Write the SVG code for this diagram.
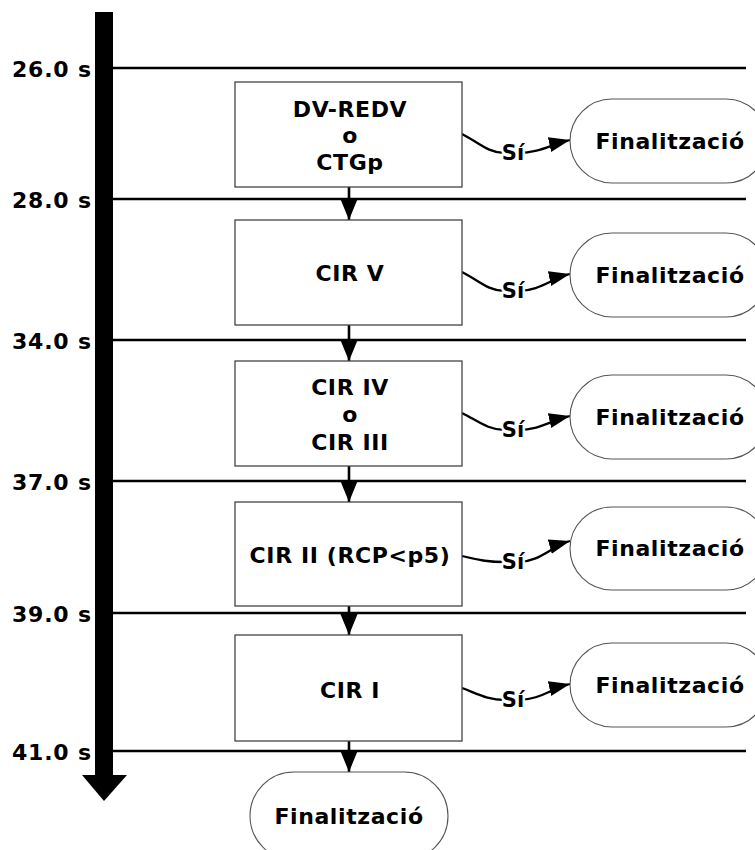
<svg xmlns="http://www.w3.org/2000/svg" width="755" height="850" viewBox="0 0 755 850">
<defs>
<style>
text{font-family:"DejaVu Sans","Verdana","Liberation Sans",sans-serif;font-weight:bold;fill:#000}
.t{font-size:22px;letter-spacing:0.8px}
.b{font-size:22px;letter-spacing:0.6px;text-anchor:middle}
.s{font-size:21px;text-anchor:middle;stroke:#fff;stroke-width:5px;paint-order:stroke;stroke-linejoin:round}
.box{fill:#fff;stroke:#444;stroke-width:1.3}
.term{fill:#fff;stroke:#555;stroke-width:1.1}
.tl{stroke:#000;stroke-width:2.6;fill:none}
.cs{stroke:#000;stroke-width:2.3;fill:none;marker-end:url(#ah)}
.cd{stroke:#000;stroke-width:2.6;fill:none;marker-end:url(#ad)}
</style>
<marker id="ah" markerUnits="userSpaceOnUse" markerWidth="24" markerHeight="18" refX="21" refY="7.5" orient="auto"><path d="M0,0 L21,7.5 L0,15 z" fill="#000"/></marker>
<marker id="ad" markerUnits="userSpaceOnUse" markerWidth="24" markerHeight="20" refX="22" refY="9" orient="auto"><path d="M0,0 L22,9 L0,18 z" fill="#000"/></marker>
</defs>
<rect width="755" height="850" fill="#fff"/>
<g id="timeline">
<rect x="95" y="12" width="18" height="764" fill="#000"/>
<polygon points="82,775 127,775 104,801" fill="#000"/>
<path class="tl" d="M113,68 H746 M113,199 H746 M113,340 H746 M113,481 H746 M113,613 H746 M113,751 H746"/>
<text class="t" x="12" y="77">26.0 s</text>
<text class="t" x="12" y="208">28.0 s</text>
<text class="t" x="12" y="349">34.0 s</text>
<text class="t" x="12" y="490">37.0 s</text>
<text class="t" x="12" y="622">39.0 s</text>
<text class="t" x="12" y="760">41.0 s</text>
</g>
<g id="connectors">
<path class="cd" d="M349,187 V220"/>
<path class="cd" d="M349,325 V361"/>
<path class="cd" d="M349,466 V502"/>
<path class="cd" d="M349,606 V635"/>
<path class="cd" d="M349,741 V772"/>
<path class="cs" d="M462,134 C478,142 488,153 505,153 L518,153 C540,153 552,144 570,140"/>
<path class="cs" d="M462,272 C478,280 488,291 505,291 L518,291 C540,291 552,278 570,274"/>
<path class="cs" d="M462,413 C478,421 488,430 505,430 L518,430 C540,430 552,420 570,416"/>
<path class="cs" d="M462,556 C478,560 488,562 505,562 L518,562 C540,562 552,546 570,541"/>
<path class="cs" d="M462,688 C478,694 488,700 505,700 L518,700 C540,700 552,688 570,684"/>
<text class="s" x="513" y="160">Sí</text>
<text class="s" x="513" y="298">Sí</text>
<text class="s" x="513" y="437">Sí</text>
<text class="s" x="513" y="569">Sí</text>
<text class="s" x="513" y="707">Sí</text>
</g>
<g id="n1"><rect class="box" x="235" y="82" width="227" height="105"/>
<text class="b" x="350" y="117">DV-REDV</text><text class="b" x="350" y="143">o</text><text class="b" x="350" y="170">CTGp</text></g>
<g id="n2"><rect class="box" x="235" y="220" width="227" height="105"/>
<text class="b" x="350" y="281">CIR V</text></g>
<g id="n3"><rect class="box" x="235" y="361" width="227" height="105"/>
<text class="b" x="350" y="395">CIR IV</text><text class="b" x="350" y="422">o</text><text class="b" x="350" y="450">CIR III</text></g>
<g id="n4"><rect class="box" x="235" y="502" width="227" height="104"/>
<text class="b" x="350" y="563">CIR II (RCP&lt;p5)</text></g>
<g id="n5"><rect class="box" x="235" y="635" width="227" height="106"/>
<text class="b" x="350" y="698">CIR I</text></g>
<g id="f1"><rect class="term" x="570" y="99" width="198" height="84" rx="42"/><text class="b" x="670" y="149">Finalització</text></g>
<g id="f2"><rect class="term" x="570" y="233" width="198" height="84" rx="42"/><text class="b" x="670" y="283">Finalització</text></g>
<g id="f3"><rect class="term" x="570" y="375" width="198" height="84" rx="42"/><text class="b" x="670" y="425">Finalització</text></g>
<g id="f4"><rect class="term" x="570" y="507" width="198" height="83" rx="42"/><text class="b" x="670" y="556">Finalització</text></g>
<g id="f5"><rect class="term" x="570" y="643" width="198" height="84" rx="42"/><text class="b" x="670" y="693">Finalització</text></g>
<g id="f6"><rect class="term" x="250" y="772" width="198" height="88" rx="44"/><text class="b" x="349" y="824">Finalització</text></g>
</svg>
